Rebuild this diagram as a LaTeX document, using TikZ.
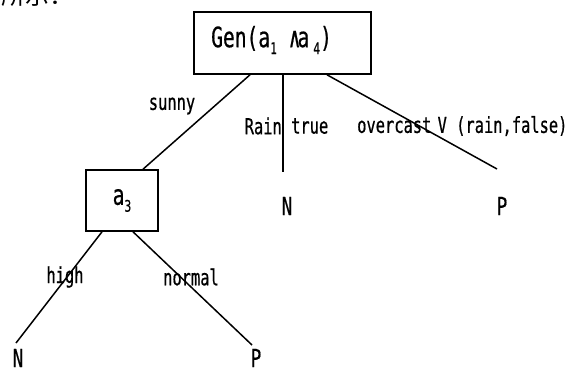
\documentclass[tikz,border=0pt]{standalone}
\usepackage{fontspec}
\setmainfont{DejaVu Sans Mono}[FakeStretch=0.7,FakeBold=0.6]
\newfontfamily\cjk{Noto Sans CJK SC}
\newcommand{\lowidx}[1]{\raisebox{-0.45ex}{\fontsize{16}{16}\selectfont #1}}
\tikzset{
  box/.style={draw, line width=1.6pt, inner sep=0pt},
  edge/.style={line width=1.5pt},
  lbl/.style={inner sep=0pt, font=\fontsize{22}{22}\selectfont},
  leaf/.style={inner sep=0pt, font=\fontsize{25}{25}\selectfont},
}
\begin{document}
\begin{tikzpicture}[x=1pt,y=1pt]
\useasboundingbox (0,0) rectangle (567,-367);
% cropped heading text
\node[inner sep=0pt, anchor=base west] (hdr) at (1,-4) {\cjk\fontsize{24}{24}\selectfont 所示：};
% nodes
\node[box, minimum width=177pt, minimum height=62pt] (top) at (282.5,-43) {};
\node[inner sep=0pt, anchor=west] (toptext) at (211,-40)
  {\fontsize{28}{28}\selectfont Gen(a\lowidx{1} ∧\kern-3pt a\kern4pt\lowidx{4})};
\node[box, minimum width=72pt, minimum height=61pt] (a3) at (122,-200.5)
  {\fontsize{28}{28}\selectfont a\lowidx{3}};
\node[leaf] (n1) at (287,-206) {N};
\node[leaf] (p1) at (502,-206) {P};
\node[leaf] (n2) at (18,-358) {N};
\node[leaf] (p2) at (256,-358) {P};
% free ends
\coordinate (e1) at (283,-172);
\coordinate (e2) at (497,-169);
\coordinate (e3) at (16,-343);
\coordinate (e4) at (252,-345);
% connectors
\draw[edge] ([xshift=-32.5pt]top.south) -- ([xshift=21pt]a3.north);
\draw[edge] (top.south -| e1) -- (e1);
\draw[edge] ([xshift=44.5pt]top.south) -- (e2);
\draw[edge] ([xshift=-20pt]a3.south) -- (e3);
\draw[edge] ([xshift=11pt]a3.south) -- (e4);
% labels
\node[lbl] (l1) at (172,-106) {sunny};
\node[lbl, anchor=east] (l2) at (282,-126) {Rain};
\node[lbl, anchor=west] (l3) at (291,-126) {true};
\node[lbl, anchor=west] (l4) at (357,-126) {overcast\kern-3pt{} V (rain,false)};
\node[lbl] (l5) at (65,-277) {high};
\node[lbl] (l6) at (191,-277) {normal};
\end{tikzpicture}
\end{document}
